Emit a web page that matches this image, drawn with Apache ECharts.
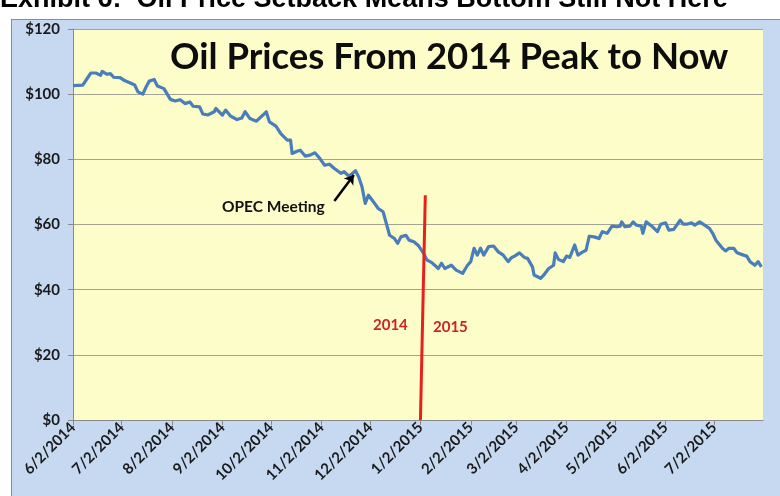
<!DOCTYPE html>
<html>
<head>
<meta charset="utf-8">
<script src="https://cdn.jsdelivr.net/npm/echarts@6/dist/echarts.min.js"></script>
<style>
  html, body { margin: 0; padding: 0; background: #ffffff; }
  #wrap { position: relative; width: 780px; height: 496px; overflow: hidden; }
  #panel { position: absolute; left: 11px; top: 19px; width: 800px; height: 500px;
           background: #c6d9f1; border-left: 1px solid #8c8c8c; border-top: 1px solid #8c8c8c; }
  #chart { position: absolute; left: 0; top: 0; width: 780px; height: 496px; }
</style>
</head>
<body>
<div id="wrap">
  <div id="panel"></div>
  <div id="chart"></div>
</div>
<script>
// WTI crude, daily closes (sampled), June 2014 - July 2015
const dates = [
  '2014-06-02','2014-06-08','2014-06-13','2014-06-16','2014-06-19','2014-06-20','2014-06-23','2014-06-25','2014-06-27',
  '2014-07-01','2014-07-04','2014-07-07','2014-07-10','2014-07-12','2014-07-15','2014-07-17','2014-07-19','2014-07-22',
  '2014-07-24','2014-07-28','2014-08-01','2014-08-04','2014-08-07','2014-08-10','2014-08-13','2014-08-15','2014-08-19',
  '2014-08-21','2014-08-24','2014-08-28','2014-08-29','2014-09-02','2014-09-04','2014-09-07','2014-09-11','2014-09-14',
  '2014-09-16','2014-09-19','2014-09-23','2014-09-27','2014-09-29','2014-10-01','2014-10-05','2014-10-08','2014-10-12',
  '2014-10-14','2014-10-15','2014-10-18','2014-10-20','2014-10-23','2014-10-26','2014-10-29','2014-11-01','2014-11-04',
  '2014-11-07','2014-11-10','2014-11-14','2014-11-16','2014-11-19','2014-11-23','2014-11-25','2014-11-27','2014-11-29',
  '2014-12-01','2014-12-04','2014-12-07','2014-12-10','2014-12-12','2014-12-14','2014-12-17','2014-12-19','2014-12-21',
  '2014-12-24','2014-12-26','2014-12-29','2015-01-01','2015-01-04','2015-01-06','2015-01-09','2015-01-13','2015-01-15',
  '2015-01-17','2015-01-21','2015-01-24','2015-01-28','2015-01-29','2015-01-31','2015-02-02','2015-02-04','2015-02-06',
  '2015-02-08','2015-02-10','2015-02-13','2015-02-16','2015-02-19','2015-02-22','2015-02-25','2015-02-27','2015-03-01',
  '2015-03-04','2015-03-07','2015-03-09','2015-03-12','2015-03-13','2015-03-17','2015-03-19','2015-03-22','2015-03-25',
  '2015-03-26','2015-03-28','2015-03-31','2015-04-02','2015-04-04','2015-04-07','2015-04-09','2015-04-12','2015-04-14',
  '2015-04-16','2015-04-19','2015-04-22','2015-04-24','2015-04-27','2015-04-30','2015-05-03','2015-05-05','2015-05-06',
  '2015-05-08','2015-05-11','2015-05-13','2015-05-15','2015-05-18','2015-05-19','2015-05-21','2015-05-25','2015-05-28',
  '2015-05-30','2015-06-02','2015-06-04','2015-06-07','2015-06-11','2015-06-13','2015-06-15','2015-06-18','2015-06-20',
  '2015-06-23','2015-06-26','2015-06-29','2015-07-01','2015-07-03','2015-07-07','2015-07-09','2015-07-11','2015-07-14',
  '2015-07-16','2015-07-20','2015-07-22','2015-07-24','2015-07-27','2015-07-29','2015-07-31'
];
const prices = [
  102.6,102.8,106.5,106.5,105.8,107.0,106.1,106.3,105.2,
  105.1,104.1,103.5,102.8,100.7,100.0,102.2,104.0,104.5,
  102.5,101.7,98.4,97.9,98.3,97.1,97.6,96.3,96.1,
  93.9,93.6,94.6,95.6,93.6,95.1,93.3,92.2,92.7,
  94.6,92.5,91.7,93.6,94.6,91.5,90.2,87.9,85.9,
  85.9,81.8,82.5,82.8,81.0,81.3,82.0,80.3,78.2,
  78.5,77.2,75.7,76.2,74.8,76.5,74.6,71.6,66.5,
  69.0,67.0,64.9,63.9,60.3,56.7,55.7,54.2,56.2,
  56.7,55.2,54.7,53.4,51.1,49.1,48.3,46.5,48.1,
  46.5,47.5,46.0,45.0,44.5,47.5,48.6,52.7,50.6,
  52.7,50.6,53.2,53.4,51.6,50.6,48.6,49.8,50.3,
  51.3,49.9,49.6,47.0,44.5,43.5,44.5,46.5,47.5,
  51.3,49.3,48.6,50.3,49.9,53.7,50.6,51.6,52.1,
  56.4,56.2,55.7,57.8,57.3,59.5,59.3,59.5,60.8,
  59.3,59.5,60.8,59.8,59.5,57.3,60.8,59.3,57.8,
  60.1,60.5,58.3,58.5,61.3,60.1,60.1,60.5,59.8,
  60.8,59.8,58.8,57.3,55.2,52.7,51.9,52.7,52.7,
  51.3,50.6,50.3,48.6,47.5,48.6,47.0
];

// Monthly axis ticks
const tickLabels = ['6/2/2014','7/2/2014','8/2/2014','9/2/2014','10/2/2014','11/2/2014','12/2/2014',
  '1/2/2015','2/2/2015','3/2/2015','4/2/2015','5/2/2015','6/2/2015','7/2/2015'];
const axisStart = '2014-06-02';
const axisEnd = '2015-08-01';
const yTicks = [0, 20, 40, 60, 80, 100, 120];

// Year divider (start and end of the red stroke) and OPEC arrow (tail, head)
const dividerDates = ['2015-01-02', '2015-01-05'];
const dividerValues = [0, 69];
const arrowDates = ['2014-11-10', '2014-11-22'];
const arrowValues = [67.2, 75.2];

function isoTime(s) {
  const p = s.split('-').map(Number);
  return Date.UTC(p[0], p[1] - 1, p[2]);
}
function mdyTime(s) {
  const p = s.split('/').map(Number);
  return Date.UTC(p[2], p[0] - 1, p[1]);
}

const tickTimes = tickLabels.map(mdyTime);
const priceData = dates.map((d, i) => [isoTime(d), prices[i]]);
const dividerData = dividerDates.map((d, i) => [isoTime(d), dividerValues[i]]);

const calibri = 'Lato, "Open Sans", sans-serif';

const chart = echarts.init(document.getElementById('chart'), null, { renderer: 'canvas' });
chart.setOption({
  backgroundColor: 'transparent',
  animation: false,
  grid: {
    left: 73, right: 17, top: 29, bottom: 76,
    show: true, backgroundColor: '#fdfdc9', borderWidth: 0
  },
  xAxis: {
    // timestamps on a linear axis, ticked on the 2nd of each month
    type: 'value',
    min: isoTime(axisStart),
    max: isoTime(axisEnd),
    axisLine: { show: true, lineStyle: { color: '#8a8a8a', width: 1 } },
    axisTick: { show: true, customValues: tickTimes, length: 5, lineStyle: { color: '#8a8a8a' } },
    axisLabel: {
      customValues: tickTimes,
      rotate: 45,
      margin: 5,
      color: '#1a1a1a',
      fontFamily: calibri,
      fontWeight: 'bold',
      fontSize: 15,
      formatter: v => {
        const i = tickTimes.indexOf(v);
        return i >= 0 ? tickLabels[i] : '';
      }
    },
    splitLine: { show: false }
  },
  yAxis: {
    type: 'value',
    min: yTicks[0],
    max: yTicks[yTicks.length - 1],
    interval: 20,
    axisLine: { show: true, lineStyle: { color: '#8a8a8a', width: 1 } },
    axisTick: { show: true, length: 5, lineStyle: { color: '#8a8a8a' } },
    axisLabel: {
      margin: 13,
      color: '#1a1a1a',
      fontFamily: calibri,
      fontWeight: 'bold',
      fontSize: 15,
      formatter: v => '$' + v
    },
    splitLine: { show: true, lineStyle: { color: '#a4a396', width: 1 } }
  },
  graphic: [
    {
      type: 'text', left: 0, top: -14, z: 10,
      style: {
        text: 'Exhibit 6:  Oil Price Setback Means Bottom Still Not Here',
        font: 'bold 27px "Liberation Sans", Arial, sans-serif',
        fill: '#000000'
      }
    },
    {
      type: 'text', left: 170, top: 39, z: 10,
      style: {
        text: 'Oil Prices From 2014 Peak to Now',
        font: 'bold 36.5px ' + calibri,
        fill: '#0d0d0d'
      }
    },
    {
      type: 'text', left: 222, top: 199, z: 10,
      style: {
        text: 'OPEC Meeting',
        font: 'bold 15.5px ' + calibri,
        fill: '#111111'
      }
    },
    {
      type: 'text', left: 373, top: 318, z: 10,
      style: { text: '2014', font: 'bold 15px ' + calibri, fill: '#cc2229' }
    },
    {
      type: 'text', left: 433, top: 320, z: 10,
      style: { text: '2015', font: 'bold 15px ' + calibri, fill: '#cc2229' }
    }
  ],
  series: [
    {
      name: 'Oil price',
      type: 'line',
      data: priceData,
      showSymbol: false,
      symbol: 'none',
      lineStyle: { color: '#4a7ebb', width: 3.2, join: 'round' },
      z: 3,
      markLine: {
        silent: true,
        symbol: ['none', 'arrow'],
        symbolSize: 9,
        label: { show: false },
        lineStyle: { color: '#000000', width: 2.5, type: 'solid' },
        data: [[
          { coord: [isoTime(arrowDates[0]), arrowValues[0]] },
          { coord: [isoTime(arrowDates[1]), arrowValues[1]] }
        ]]
      }
    },
    {
      name: 'Year divider',
      type: 'line',
      data: dividerData,
      showSymbol: false,
      symbol: 'none',
      lineStyle: { color: '#e8201c', width: 3 },
      z: 4
    }
  ]
});
</script>
</body>
</html>
